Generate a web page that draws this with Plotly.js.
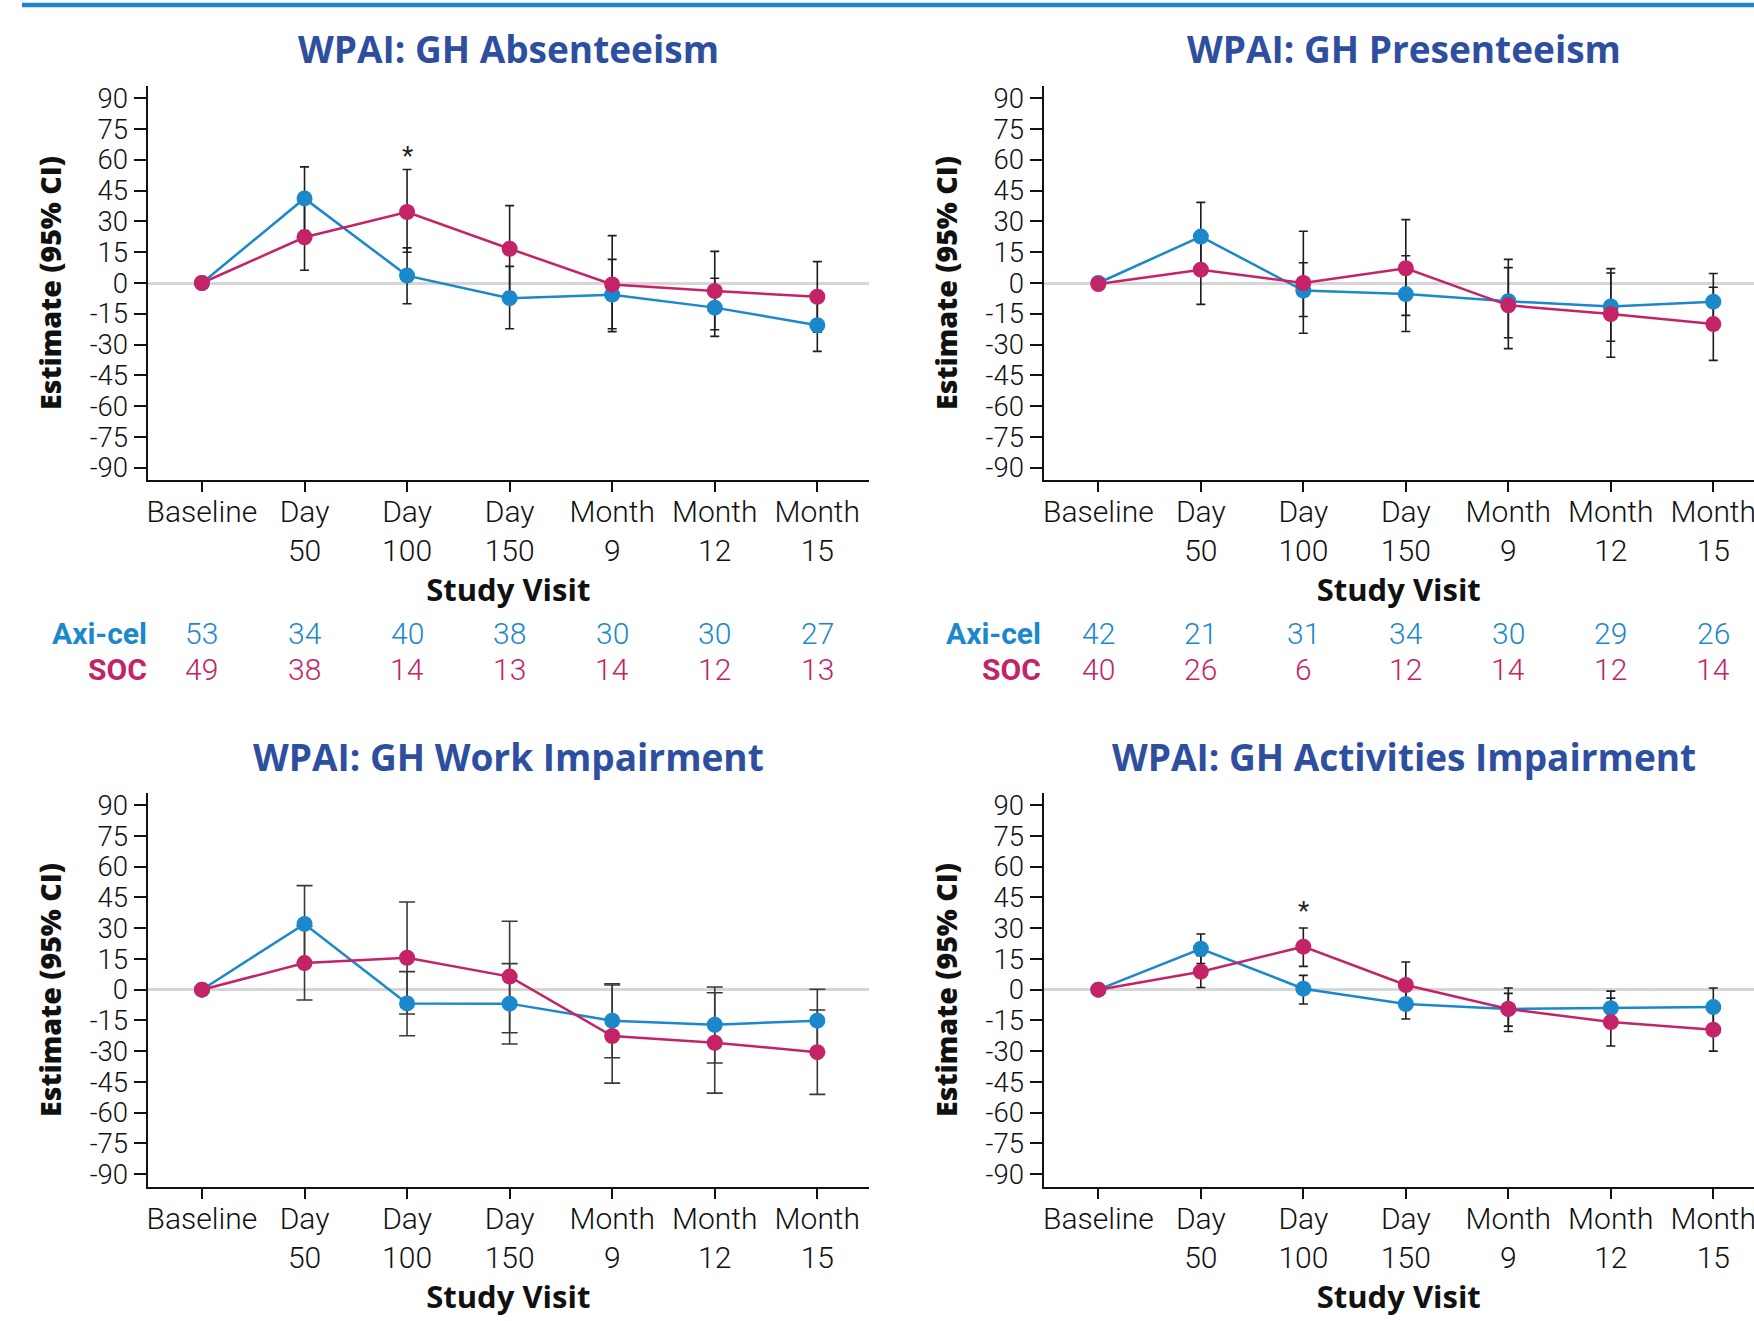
<!DOCTYPE html>
<html>
<head>
<meta charset="utf-8">
<script src="https://cdn.plot.ly/plotly-3.0.1.min.js"></script>
<style>html,body{margin:0;padding:0;background:#fff;}#chart{width:1754px;height:1321px;}</style>
</head>
<body>
<div id="chart"></div>
<script>
// ---- categories & ticks ----
const visits = ['Baseline','Day<br>50','Day<br>100','Day<br>150','Month<br>9','Month<br>12','Month<br>15'];
const yTickVals = [-90,-75,-60,-45,-30,-15,0,15,30,45,60,75,90];
const yTickText = ['-90','-75','-60','-45','-30','-15','0','15','30','45','60','75','90'];

// ---- WPAI: GH Absenteeism ----
const absAxiEst = [0, 41.2, 3.6, -7.4, -5.7, -12.0, -20.6];
const absAxiLo  = [0, 25.5, -10.1, -22.3, -22.3, -26.0, -33.3];
const absAxiHi  = [0, 56.6, 17.1, 8.1, 11.5, 2.3, -7.9];
const absSocEst = [0, 22.3, 34.6, 16.7, -0.7, -3.9, -6.7];
const absSocLo  = [0, 6.2, 15.0, -4.3, -23.7, -22.8, -24.0];
const absSocHi  = [0, 38.4, 55.3, 37.7, 23.1, 15.4, 10.4];
const absAxiN = [53, 34, 40, 38, 30, 30, 27];
const absSocN = [49, 38, 14, 13, 14, 12, 13];

// ---- WPAI: GH Presenteeism ----
const preAxiEst = [0, 22.6, -3.7, -5.4, -8.9, -11.4, -9.1];
const preAxiLo  = [0, 5.9, -16.3, -23.6, -26.7, -28.4, -22.8];
const preAxiHi  = [0, 39.3, 9.9, 13.3, 7.5, 4.9, 4.6];
const preSocEst = [-0.5, 6.5, 0, 7.2, -10.9, -15.1, -20.0];
const preSocLo  = [-0.5, -10.4, -24.5, -15.8, -32.0, -36.2, -37.7];
const preSocHi  = [-0.5, 23.4, 25.2, 30.9, 11.5, 7.0, -2.1];
const preAxiN = [42, 21, 31, 34, 30, 29, 26];
const preSocN = [40, 26, 6, 12, 14, 12, 14];

// ---- WPAI: GH Work Impairment ----
const wrkAxiEst = [0, 32.1, -6.7, -6.8, -15.1, -17.1, -15.1];
const wrkAxiLo  = [0, 13.4, -22.5, -26.5, -33.2, -35.8, -30.4];
const wrkAxiHi  = [0, 50.8, 8.8, 12.7, 2.9, 1.3, 0.2];
const wrkSocEst = [0, 13.0, 15.6, 6.4, -22.6, -25.9, -30.5];
const wrkSocLo  = [0, -5.0, -11.9, -21.0, -45.6, -50.5, -51.1];
const wrkSocHi  = [0, 31.0, 42.8, 33.4, 2.3, -1.5, -9.9];

// ---- WPAI: GH Activities Impairment ----
const actAxiEst = [0, 20.0, 0.5, -7.0, -9.4, -9.0, -8.5];
const actAxiLo  = [0, 12.8, -7.0, -14.3, -17.8, -17.3, -17.8];
const actAxiHi  = [0, 27.2, 7.0, 0.3, -1.8, -0.7, 0.8];
const actSocEst = [0, 8.8, 21.0, 2.3, -9.4, -15.8, -19.5];
const actSocLo  = [0, 1.1, 11.4, -8.9, -20.4, -27.5, -30.0];
const actSocHi  = [0, 16.6, 30.1, 13.5, 0.8, -4.1, -9.0];

const panelTitles = ['WPAI: GH Absenteeism','WPAI: GH Presenteeism','WPAI: GH Work Impairment','WPAI: GH Activities Impairment'];
const seriesNames = ['Axi-cel','SOC'];
// significance markers: [panel index, visit index, y value]
const starMarks = [[0, 2, 62], [3, 2, 38.5]];

// ---- styles ----
const BLUE = '#1a88cb';
const MAG = '#c42367';
const TITLE_BLUE = '#2e4f9f';
const FONT = 'Roboto, Lato, sans-serif';
const BFONT = '"Open Sans", Roboto, sans-serif';

const panels = [
  {axi:[absAxiEst,absAxiLo,absAxiHi], soc:[absSocEst,absSocLo,absSocHi], ax:'', cap:4.5, ecol:'#1e1e1e'},
  {axi:[preAxiEst,preAxiLo,preAxiHi], soc:[preSocEst,preSocLo,preSocHi], ax:'2', cap:4.5, ecol:'#1e1e1e'},
  {axi:[wrkAxiEst,wrkAxiLo,wrkAxiHi], soc:[wrkSocEst,wrkSocLo,wrkSocHi], ax:'3', cap:8, ecol:'#3a3a3a'},
  {axi:[actAxiEst,actAxiLo,actAxiHi], soc:[actSocEst,actSocLo,actSocHi], ax:'4', cap:4.5, ecol:'#1e1e1e'}
];

const traces = [];
panels.forEach(p => {
  const xa = 'x' + p.ax, ya = 'y' + p.ax;
  // error bars first (caps hidden under markers, as in reference)
  [p.axi, p.soc].forEach((s, k) => {
    const [est, lo, hi] = s;
    traces.push({
      type:'scatter', mode:'markers', x: visits, y: est, xaxis: xa, yaxis: ya,
      name: seriesNames[k] + ' CI', showlegend:false, hoverinfo:'skip',
      marker:{size:1, color:'rgba(0,0,0,0)'},
      error_y:{type:'data', symmetric:false,
        array: hi.map((v,i)=>v-est[i]), arrayminus: est.map((v,i)=>v-lo[i]),
        color:p.ecol, thickness:1.6, width:p.cap}
    });
  });
  [[p.axi, BLUE, 'Axi-cel'], [p.soc, MAG, 'SOC']].forEach(([s, col, nm]) => {
    traces.push({
      type:'scatter', mode:'lines+markers', x: visits, y: s[0], xaxis: xa, yaxis: ya,
      name: nm, showlegend:false,
      line:{color:col, width:2.5}, marker:{color:col, size:16}
    });
  });
});

const W = 1754, H = 1321;
const px = v => v / W, py = v => 1 - v / H;

function xAxis(dom, rng, anchor) {
  return {
    domain: dom, range: rng, anchor: anchor, type:'category',
    showline:true, linecolor:'#111', linewidth:2, mirror:false,
    ticks:'outside', ticklen:10, tickwidth:2, tickcolor:'#111',
    ticklabelstandoff:-6,
    showgrid:false, zeroline:false, automargin:false,
    tickfont:{family:FONT, size:30, color:'#111', weight:300},
    title:{text:'Study Visit', font:{family:BFONT, size:31, color:'#111', weight:700}, standoff:9}
  };
}
function yAxis(dom, rng, anchor) {
  return {
    domain: dom, range: rng, anchor: anchor,
    showline:true, linecolor:'#111', linewidth:2,
    ticks:'outside', ticklen:12, tickwidth:2, tickcolor:'#111',
    tickvals: yTickVals, ticktext: yTickText,
    showgrid:false, zeroline:true, zerolinecolor:'#d6d6d6', zerolinewidth:3,
    automargin:false,
    tickfont:{family:FONT, size:27.5, color:'#111', weight:300},
    title:{text:'Estimate (95% CI)', font:{family:BFONT, size:28.5, color:'#111', weight:800}, standoff:20}
  };
}

const xL = [px(147.6), px(869)], xR = [px(1043.5), 1];
const rL = [-0.53, 6.504], rR = [-0.535, 6.397];
const yT = [py(480), py(86)], yB = [py(1187), py(793)];
const rT = [-96, 96], rB = [-96.3, 96];

const annotations = [];
const titlePos = [[ (147.6+869)/2, 49 ], [ 1043.5+360.5, 49 ], [ (147.6+869)/2, 756 ], [ 1043.5+360.5, 756 ]];
panelTitles.forEach((t, i) => {
  annotations.push({xref:'paper', yref:'paper', x: px(titlePos[i][0]), y: py(titlePos[i][1]),
    xanchor:'center', yanchor:'middle', showarrow:false, text:t,
    font:{family:BFONT, size:37, color:TITLE_BLUE, weight:700}});
});
starMarks.forEach(([pi, vi, yv]) => {
  const ax = panels[pi].ax;
  annotations.push({xref:'x'+ax, yref:'y'+ax, x: visits[vi], y: yv, showarrow:false, text:'*',
    xanchor:'center', yanchor:'middle', font:{family:FONT, size:26, color:'#222'}});
});
// N tables below the top panels
[[absAxiN, absSocN, '', 148.5], [preAxiN, preSocN, '2', 1042.5]].forEach(([an, sn, ax, lx]) => {
  annotations.push({xref:'paper', yref:'paper', x: px(lx), y: py(633), xanchor:'right', yanchor:'middle',
    showarrow:false, text:'Axi-cel', font:{family:FONT, size:30, color:BLUE, weight:700}});
  annotations.push({xref:'paper', yref:'paper', x: px(lx), y: py(669), xanchor:'right', yanchor:'middle',
    showarrow:false, text:'SOC', font:{family:FONT, size:30, color:MAG, weight:700}});
  visits.forEach((v, i) => {
    annotations.push({xref:'x'+ax, yref:'paper', x: v, y: py(633), xanchor:'center', yanchor:'middle',
      showarrow:false, text:String(an[i]), font:{family:FONT, size:30, color:BLUE, weight:300}});
    annotations.push({xref:'x'+ax, yref:'paper', x: v, y: py(669), xanchor:'center', yanchor:'middle',
      showarrow:false, text:String(sn[i]), font:{family:FONT, size:30, color:MAG, weight:300}});
  });
});

const layout = {
  width: W, height: H,
  margin:{l:0, r:0, t:0, b:0, pad:0},
  paper_bgcolor:'#fff', plot_bgcolor:'#fff',
  showlegend:false,
  font:{family:FONT, color:'#111'},
  xaxis: xAxis(xL, rL, 'y'),   yaxis: yAxis(yT, rT, 'x'),
  xaxis2: xAxis(xR, rR, 'y2'), yaxis2: yAxis(yT, rT, 'x2'),
  xaxis3: xAxis(xL, rL, 'y3'), yaxis3: yAxis(yB, rB, 'x3'),
  xaxis4: xAxis(xR, rR, 'y4'), yaxis4: yAxis(yB, rB, 'x4'),
  annotations: annotations,
  shapes:[{type:'line', xref:'paper', yref:'paper', x0: px(22), x1: 1, y0: py(5), y1: py(5),
    line:{color:'#1f87c9', width:4.5}}]
};

Plotly.newPlot('chart', traces, layout, {displayModeBar:false, staticPlot:true});
</script>
</body>
</html>
